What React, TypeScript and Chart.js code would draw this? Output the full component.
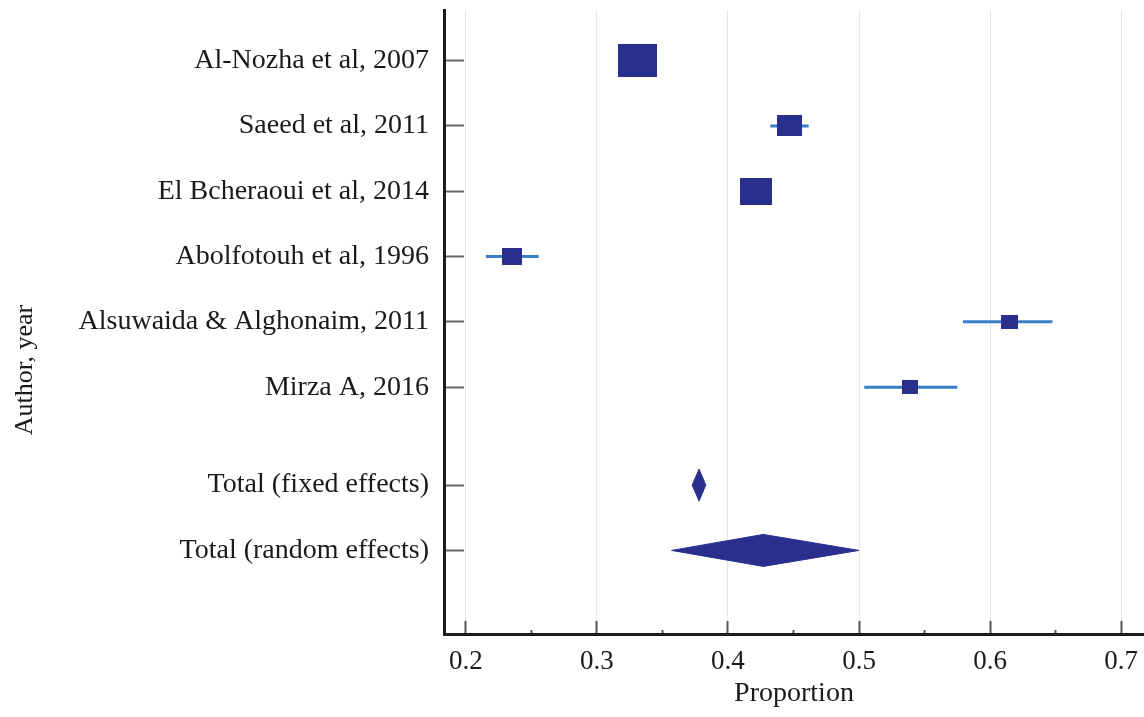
import React, { useEffect, useRef } from "react";
import { Chart, registerables } from "chart.js";

Chart.register(...registerables);

// ---- data ----
const studyNames = [
  "Al-Nozha et al, 2007",
  "Saeed et al, 2011",
  "El Bcheraoui et al, 2014",
  "Abolfotouh et al, 1996",
  "Alsuwaida & Alghonaim, 2011",
  "Mirza A, 2016",
];
const studyRows = [1, 2, 3, 4, 5, 6];
const studyEst = [0.3307, 0.4468, 0.4217, 0.2351, 0.6148, 0.5389];
const studyLow = [0.322, 0.4323, 0.411, 0.2154, 0.5793, 0.504];
const studyHigh = [0.34, 0.4616, 0.433, 0.2556, 0.6475, 0.575];
const studyWeight = [36.5, 15.3, 25.7, 9.3, 7.3, 5.9];

const totalNames = ["Total (fixed effects)", "Total (random effects)"];
const totalRows = [7.5, 8.5];
const totalEst = [0.378, 0.427];
const totalLow = [0.3727, 0.357];
const totalHigh = [0.3831, 0.5];

const xTickValues = [0.2, 0.25, 0.3, 0.35, 0.4, 0.45, 0.5, 0.55, 0.6, 0.65, 0.7];
const xMin = 0.1834;
const xMax = 0.7174;
const yMin = 0.224;
const yMax = 9.78;

const yLabels = [...studyNames, ...totalNames];
const yRows = [...studyRows, ...totalRows];

// ---- style ----
const FONT = '"Liberation Serif", "Times New Roman", serif';
const NAVY = "#2a2f8e";
const LINE_BLUE = "#3a7ec9";
const TEXT = "#1a1a1a";
const AREA_PER_WEIGHT = 34.7;
const ASPECT = 1.18;
const DIAMOND_HALF = 0.245;
const W = 1144;
const H = 717;

const isMajor = (v: number) => Math.round(v * 100) % 10 === 0;

function makeRect(weight: number): HTMLCanvasElement {
  const area = weight * AREA_PER_WEIGHT;
  const w = Math.round(Math.sqrt(area * ASPECT));
  const h = Math.round(w / ASPECT);
  const c = document.createElement("canvas");
  c.width = w;
  c.height = h;
  const g = c.getContext("2d")!;
  g.fillStyle = NAVY;
  g.fillRect(0, 0, w, h);
  return c;
}

const zeroPadding = (s: any) => {
  s.paddingTop = 0;
  s.paddingBottom = 0;
  s.paddingLeft = 0;
  s.paddingRight = 0;
};

const yTitlePlugin = {
  id: "yTitle",
  afterDraw(chart: any) {
    const ctx = chart.ctx;
    ctx.save();
    ctx.translate(32, 370);
    ctx.rotate(-Math.PI / 2);
    ctx.font = `26px ${FONT}`;
    ctx.textAlign = "center";
    ctx.textBaseline = "alphabetic";
    ctx.fillStyle = TEXT;
    ctx.fillText("Author, year", 0, 0);
    ctx.restore();
  },
};

export default function App() {
  const ref = useRef<HTMLCanvasElement | null>(null);

  useEffect(() => {
    if (!ref.current) return;

    const markerDataset = {
      label: "Studies",
      data: studyEst.map((x, i) => ({ x, y: studyRows[i] })),
      pointStyle: studyWeight.map((w) => makeRect(w)),
      pointRadius: 10,
      pointBorderWidth: 0,
      showLine: false,
    };

    const ciDatasets = studyEst.map((_, i) => ({
      label: "CI " + studyNames[i],
      data: [
        { x: studyLow[i], y: studyRows[i] },
        { x: studyHigh[i], y: studyRows[i] },
      ],
      showLine: true,
      borderColor: LINE_BLUE,
      borderWidth: 3,
      pointRadius: 0,
      fill: false,
    }));

    const diamondDatasets = totalEst.map((e, i) => ({
      label: totalNames[i],
      data: [
        { x: totalLow[i], y: totalRows[i] },
        { x: e, y: totalRows[i] - DIAMOND_HALF },
        { x: totalHigh[i], y: totalRows[i] },
        { x: e, y: totalRows[i] + DIAMOND_HALF },
        { x: totalLow[i], y: totalRows[i] },
      ],
      showLine: true,
      borderColor: NAVY,
      borderWidth: 1,
      backgroundColor: NAVY,
      pointRadius: 0,
      fill: "shape",
      tension: 0,
    }));

    const chart = new Chart(ref.current, {
      type: "scatter",
      data: { datasets: [markerDataset, ...ciDatasets, ...diamondDatasets] as any },
      plugins: [yTitlePlugin],
      options: {
        animation: false,
        responsive: false,
        maintainAspectRatio: false,
        devicePixelRatio: 1,
        layout: { autoPadding: false, padding: { top: 10, right: 0, left: 0, bottom: 0 } },
        plugins: {
          legend: { display: false },
          tooltip: { enabled: false },
        },
        scales: {
          x: {
            type: "linear",
            min: xMin,
            max: xMax,
            afterBuildTicks: (s: any) => {
              s.ticks = xTickValues.map((v) => ({ value: v }));
            },
            afterFit: (s: any) => {
              s.height = 83;
              zeroPadding(s);
            },
            border: { display: true, color: "#1c1c1c", width: 3 },
            grid: {
              color: (ctx: any) =>
                ctx.tick && isMajor(ctx.tick.value) ? "#e3e7eb" : "rgba(0,0,0,0)",
              lineWidth: 1,
              tickColor: "#555555",
              tickWidth: 2,
              tickLength: -13,
              tickBorderDash: (ctx: any) =>
                ctx.tick && isMajor(ctx.tick.value) ? [] : [6, 40],
            },
            ticks: {
              autoSkip: false,
              maxRotation: 0,
              padding: 25,
              color: TEXT,
              font: { family: FONT, size: 27 },
              callback: (v: any) => (isMajor(Number(v)) ? Number(v).toFixed(1) : ""),
            },
            title: {
              display: true,
              text: "Proportion",
              color: TEXT,
              font: { family: FONT, size: 28 },
              padding: { top: 7, bottom: 7 },
            },
          },
          y: {
            type: "linear",
            reverse: true,
            min: yMin,
            max: yMax,
            afterBuildTicks: (s: any) => {
              s.ticks = yRows.map((v) => ({ value: v }));
            },
            afterFit: (s: any) => {
              s.width = 444;
              zeroPadding(s);
            },
            border: { display: true, color: "#1c1c1c", width: 3 },
            grid: {
              drawOnChartArea: false,
              tickColor: "#666666",
              tickWidth: 2,
              tickLength: -20,
            },
            ticks: {
              autoSkip: false,
              padding: 35,
              color: TEXT,
              font: { family: FONT, size: 28 },
              callback: (_v: any, i: number) => yLabels[i],
            },
          },
        },
      } as any,
    });

    return () => chart.destroy();
  }, []);

  return (
    <div style={{ position: "fixed", left: 0, top: 0, width: W, height: H, background: "#ffffff" }}>
      <canvas ref={ref} width={W} height={H} style={{ width: W, height: H, display: "block" }} />
    </div>
  );
}
